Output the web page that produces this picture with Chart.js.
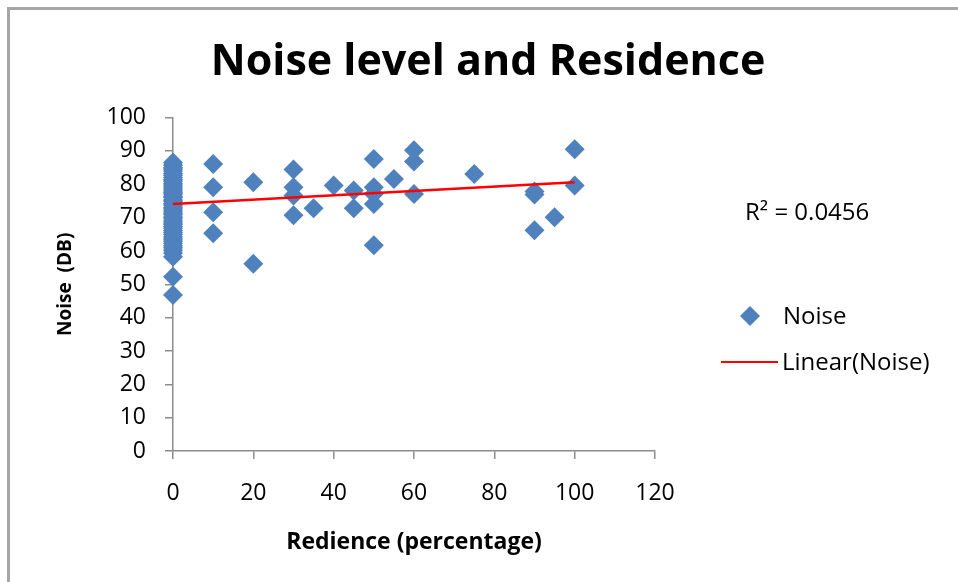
<!DOCTYPE html>
<html>
<head>
<meta charset="utf-8">
<script src="https://cdn.jsdelivr.net/npm/chart.js@4.4.1/dist/chart.umd.min.js"></script>
<style>
  body { margin: 0; background: #fff; }
</style>
</head>
<body>
<canvas id="ruido" width="958" height="582"></canvas>
<script>
// residencia (%) y nivel de ruido (dB), un par por encuesta
const residence = [
  0, 0, 0, 0, 0, 0, 0, 0, 0, 0, 0, 0, 0, 0, 0, 0, 0, 0, 0, 0, 0, 0, 0, 0, 0,
  0, 0, 0, 0, 0, 0, 0, 0, 0, 0, 0, 0, 0, 0, 0, 0, 0, 0, 0, 0, 0, 0, 0, 0,
  10, 10, 10, 10,
  20, 20,
  30, 30, 30, 30,
  35, 40, 45, 45,
  50, 50, 50, 50, 50,
  55, 60, 60, 60,
  75, 90, 90, 90, 95,
  100, 100
];
const noise = [
  86.5, 85.8, 85, 84.6, 84, 83.2, 82.7, 82, 81.4, 81, 80.3, 79.8, 79.2, 78.6, 78, 77.5, 77.1, 76.4, 76, 75.3, 74.9, 74.2, 73.8, 73.1, 72.6,
  72, 71.4, 70.9, 70.2, 69.7, 69, 68.4, 67.9, 67.3, 66.8, 66.1, 65.5, 64.9, 64.2, 63.6, 63, 62.3, 61.6, 61, 60.2, 59.4, 58.3, 52.3, 46.8,
  86.1, 79.1, 71.6, 65.3,
  80.6, 56.2,
  84.4, 79.1, 76.6, 70.7,
  72.8, 79.6, 78.1, 72.8,
  87.6, 79.1, 77.1, 74.1, 61.7,
  81.6, 90.2, 86.8, 77.1,
  83.1, 77.8, 76.9, 66.2, 70.1,
  90.5, 79.6
];

// linea de tendencia (Excel)
const trendIntercept = 74.1;
const trendSlope = 0.065;
const rSquared = '0.0456';

const xTicks = [0, 20, 40, 60, 80, 100, 120];
const yTicks = [0, 10, 20, 30, 40, 50, 60, 70, 80, 90, 100];

const azul = '#4F81BD';
const rojo = '#FF0000';
const gris = '#8C8C8C';
const fuente = '"Open Sans", Lato, sans-serif';

let puntos = residence.map((r, i) => ({x: r, y: noise[i]}));
let xMin = Math.min(...residence);
let xMax = Math.max(...residence);
let tendencia = [
  {x: xMin, y: trendIntercept + trendSlope * xMin},
  {x: xMax, y: trendIntercept + trendSlope * xMax}
];

// marco, R2 y leyenda
const extras = {
  id: 'extras',
  beforeDraw(chart) {
    const c = chart.ctx;
    c.save();
    c.fillStyle = '#fff';
    c.fillRect(0, 0, chart.width, chart.height);
    c.strokeStyle = '#A6A6A6';
    c.lineWidth = 3;
    c.beginPath();
    c.moveTo(8.5, chart.height);
    c.lineTo(8.5, 8.5);
    c.lineTo(chart.width, 8.5);
    c.stroke();
    c.restore();
  },
  afterDraw(chart) {
    const c = chart.ctx;
    c.save();
    c.fillStyle = '#000';
    c.font = '24px ' + fuente;
    c.textBaseline = 'middle';
    c.textAlign = 'left';
    c.fillText('R² = ' + rSquared, 745, 213);

    c.fillStyle = azul;
    Chart.helpers.drawPoint(c, {pointStyle: 'rectRot', radius: 10, borderWidth: 0}, 750, 316);
    c.fillStyle = '#000';
    c.fillText('Noise', 783, 317);

    c.strokeStyle = rojo;
    c.lineWidth = 2;
    c.beginPath();
    c.moveTo(721, 362);
    c.lineTo(778, 362);
    c.stroke();
    c.fillText('Linear(Noise)', 782, 363);
    c.restore();
  }
};

const ctx = document.getElementById('ruido').getContext('2d');
const grafica = new Chart(ctx, {
  type: 'scatter',
  data: {
    datasets: [{
      type: 'line',
      label: 'Linear(Noise)',
      data: tendencia,
      borderColor: rojo,
      borderWidth: 2.5,
      pointRadius: 0,
      clip: false,
      order: 0
    }, {
      label: 'Noise',
      data: puntos,
      pointStyle: 'rectRot',
      pointRadius: 10,
      pointHoverRadius: 10,
      backgroundColor: azul,
      borderWidth: 0,
      clip: false,
      order: 1
    }]
  },
  options: {
    responsive: false,
    animation: false,
    layout: {padding: {left: 18, right: 0, top: 0, bottom: 0}},
    plugins: {
      legend: {display: false},
      tooltip: {enabled: false},
      title: {
        display: true,
        text: 'Noise level and Residence',
        color: '#000',
        font: {family: fuente, size: 43, weight: 'bold'},
        padding: {top: 37, bottom: 29}
      }
    },
    scales: {
      x: {
        type: 'linear',
        min: 0,
        max: 120,
        afterBuildTicks: s => { s.ticks = xTicks.map(v => ({value: v})); },
        afterFit: s => { s.height = 131; },
        grid: {drawOnChartArea: false, drawTicks: true, tickLength: 8, color: gris, lineWidth: 1.5},
        border: {display: true, color: gris, width: 1.5},
        ticks: {color: '#000', padding: 21, font: {family: fuente, size: 23}},
        title: {
          display: true,
          text: 'Redience (percentage)',
          color: '#000',
          font: {family: fuente, size: 23, weight: 'bold'},
          padding: {top: 0, bottom: 26}
        }
      },
      y: {
        type: 'linear',
        min: 0,
        max: 100,
        afterBuildTicks: s => { s.ticks = yTicks.map(v => ({value: v})); },
        afterFit: s => { s.width = 155; },
        grid: {drawOnChartArea: false, drawTicks: true, tickLength: 8, color: gris, lineWidth: 1.5},
        border: {display: true, color: gris, width: 1.5},
        ticks: {color: '#000', padding: 19, font: {family: fuente, size: 23}},
        title: {
          display: true,
          text: 'Noise  (DB)',
          color: '#000',
          font: {family: fuente, size: 19, weight: 'bold'},
          padding: {top: 36, bottom: 0}
        }
      },
      // columna vacia a la derecha para la leyenda
      hueco: {
        axis: 'y',
        position: 'right',
        display: true,
        afterFit: s => { s.width = 303; },
        grid: {display: false},
        border: {display: false},
        ticks: {display: false}
      }
    }
  },
  plugins: [extras]
});
</script>
</body>
</html>
